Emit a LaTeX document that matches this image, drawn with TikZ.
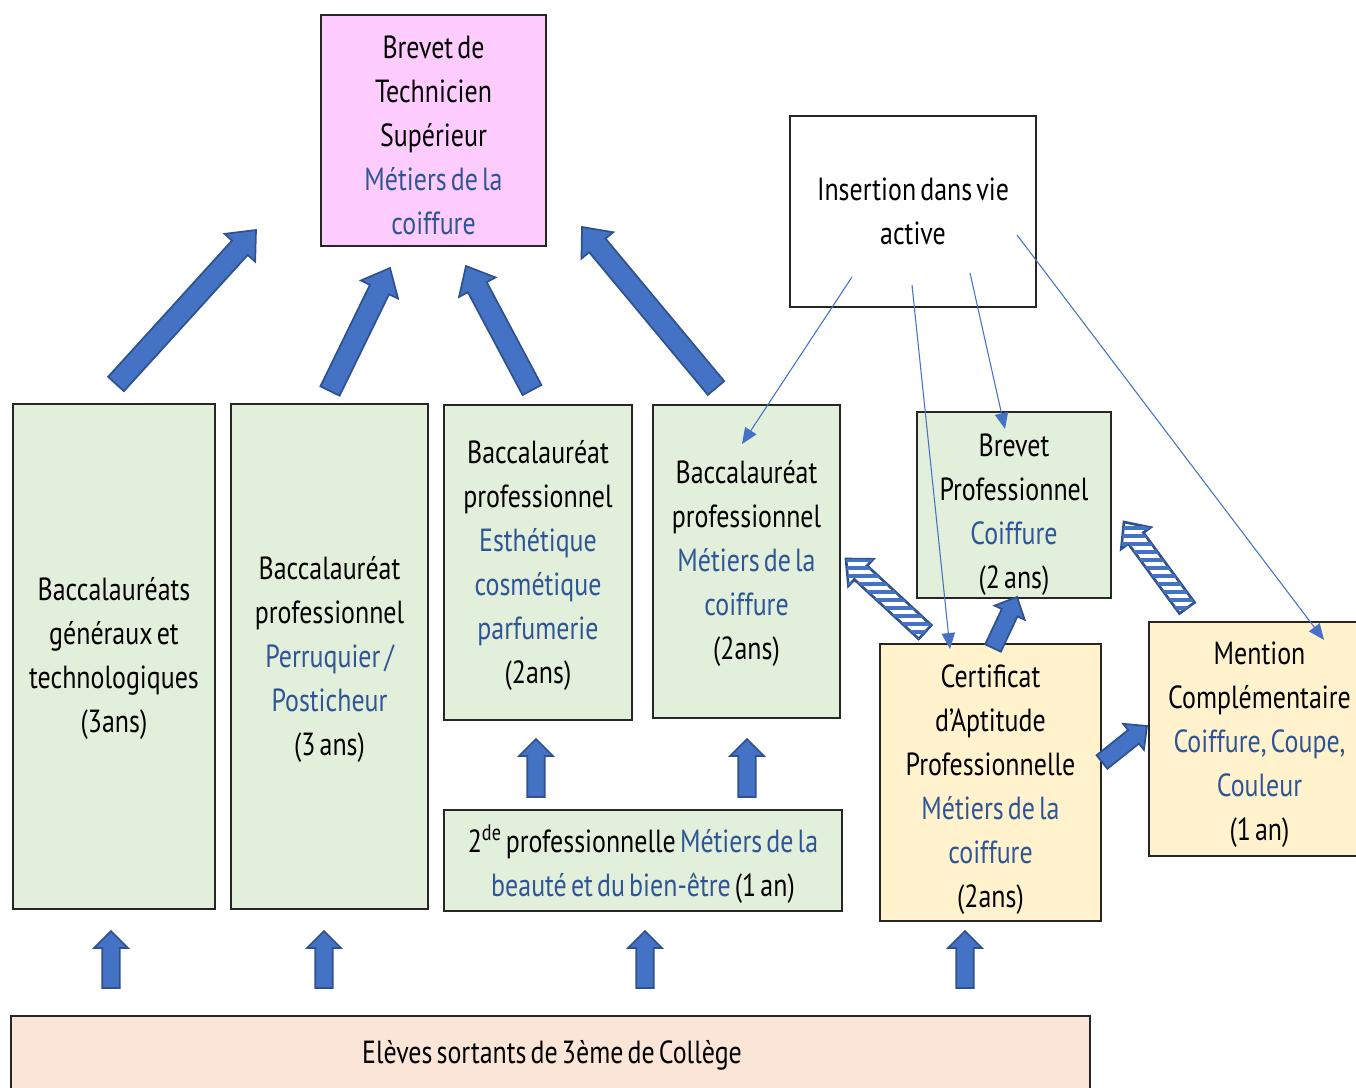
\documentclass[tikz,border=0pt]{standalone}
\usepackage{fontspec}
\setmainfont{PT Sans}[FakeStretch=0.81, WordSpace=0.6]
\usetikzlibrary{calc,fit,arrows.meta,patterns.meta}
\definecolor{grn}{HTML}{E2EFDA}
\definecolor{pnk}{HTML}{FFCCFF}
\definecolor{ylw}{HTML}{FFF2CC}
\definecolor{pch}{HTML}{FBE5D6}
\definecolor{blu}{HTML}{2F5597}
\definecolor{afill}{HTML}{4472C4}
\definecolor{aedge}{HTML}{2F528F}
\definecolor{boxc}{HTML}{262626}
\newcommand{\bl}[1]{\textcolor{blu}{#1}}
\newcommand{\blkarrow}[6]{%
  \coordinate (bkH) at ($(#3)!#6!(#2)$);
  \draw[#1] ($(#2)!#4!90:(#3)$) -- ($(bkH)!#4!90:(#3)$) -- ($(bkH)!#5!90:(#3)$) -- (#3)
    -- ($(bkH)!#5!-90:(#3)$) -- ($(bkH)!#4!-90:(#3)$) -- ($(#2)!#4!-90:(#3)$) -- cycle;}
\tikzset{
  box/.style={draw=boxc, line width=1.1pt, inner sep=0pt},
  txt/.style={align=center, inner sep=0pt, font=\fontsize{24}{33}\selectfont},
  solidarrow/.style={fill=afill, draw=aedge, line width=1.3pt, line join=miter},
  stripearrow/.style={draw=aedge, line width=2pt, line join=miter, fill=white,
    postaction={pattern={Lines[angle=0,distance=6pt,line width=3pt]}, pattern color=afill}},
  thin/.style={draw=afill, line width=0.8pt, -{Triangle[length=12pt,width=10pt]}},
}
\begin{document}
\begin{tikzpicture}[x=0.75pt,y=-0.75pt]
\useasboundingbox (0,0) rectangle (1356,1088);
% boxes
\node[box, fill=pnk, fit={(321,15)(546,246)}] (bts) {};
\node[box, fill=white, fit={(790,116)(1036,307)}] (ins) {};
\node[box, fill=grn, fit={(13,404)(215,909)}] (bacg) {};
\node[box, fill=grn, fit={(231,404)(428,909)}] (bacp) {};
\node[box, fill=grn, fit={(444,405)(632,720)}] (bace) {};
\node[box, fill=grn, fit={(653,405)(840,718)}] (bacc) {};
\node[box, fill=grn, fit={(444,810)(842,911)}] (sec) {};
\node[box, fill=grn, fit={(917,412)(1111,598)}] (bp) {};
\node[box, fill=ylw, fit={(880,644)(1101,921)}] (cap) {};
\node[box, fill=ylw, fit={(1149,622)(1364,856)}] (mc) {};
\node[box, fill=pch, fit={(11,1016)(1090,1094)}] (col) {};
% texts
\node[txt] (btsT) at ($(bts.center)+(0,5)$) {Brevet de\\Technicien\\Supérieur\\\bl{Métiers de la}\\\bl{coiffure}};
\node[txt] (insT) at ($(ins.center)+(0,0)$) {Insertion dans vie\\active};
\node[txt] (bacgT) at ($(bacg.center)+(0,2)$) {Baccalauréats\\généraux et\\technologiques\\(3ans)};
\node[txt] (bacpT) at ($(bacp.center)+(0,3)$) {Baccalauréat\\professionnel\\\bl{Perruquier /}\\\bl{Posticheur}\\(3 ans)};
\node[txt] (baceT) at ($(bace.center)+(0,3)$) {Baccalauréat\\professionnel\\\bl{Esthétique}\\\bl{cosmétique}\\\bl{parfumerie}\\(2ans)};
\node[txt] (baccT) at ($(bacc.center)+(0,2)$) {Baccalauréat\\professionnel\\\bl{Métiers de la}\\\bl{coiffure}\\(2ans)};
\node[txt] (secT) at ($(sec.center)+(0,4)$) {2\textsuperscript{de} professionnelle \bl{Métiers de la}\\\bl{beauté et du bien-être} (1 an)};
\node[txt] (bpT) at ($(bp.center)+(0,10)$) {Brevet\\Professionnel\\\bl{Coiffure}\\(2 ans)};
\node[txt] (capT) at ($(cap.center)+(0,7)$) {Certificat\\d'Aptitude\\Professionnelle\\\bl{Métiers de la}\\\bl{coiffure}\\(2ans)};
\node[txt] (mcT) at ($(mc.center)+(3,6)$) {Mention\\Complémentaire\\\bl{Coiffure, Coupe,}\\\bl{Couleur}\\(1 an)};
\node[txt] (colT) at (552,1055) {Elèves sortants de 3ème de Collège};
% block arrows from college
\foreach \xx/\nm in {111/a,324/b,645/c,965/d}{
  \coordinate (t\nm) at (\xx,988);
  \coordinate (h\nm) at (\xx,931);
  \blkarrow{solidarrow}{t\nm}{h\nm}{6.5pt}{12.75pt}{12.75pt}
}
\foreach \xx/\nm in {536/e,747/f}{
  \coordinate (t\nm) at (\xx,797);
  \coordinate (h\nm) at (\xx,739);
  \blkarrow{solidarrow}{t\nm}{h\nm}{6.5pt}{12.75pt}{12.75pt}
}
% big diagonal arrows to BTS
\coordinate (g1t) at (116,384); \coordinate (g1h) at (256,230);
\coordinate (g2t) at (330,391); \coordinate (g2h) at (390,268);
\coordinate (g3t) at (532,390); \coordinate (g3h) at (466,266);
\coordinate (g4t) at (716,388); \coordinate (g4h) at (582,227);
\blkarrow{solidarrow}{g1t}{g1h}{8pt}{15.5pt}{18pt}
\blkarrow{solidarrow}{g2t}{g2h}{8pt}{15.5pt}{18pt}
\blkarrow{solidarrow}{g3t}{g3h}{8pt}{15.5pt}{18pt}
\blkarrow{solidarrow}{g4t}{g4h}{8pt}{15.5pt}{18pt}
% CAP arrows
\coordinate (c1t) at (993,648); \coordinate (c1h) at (1017,597);
\coordinate (c2t) at (1102,762); \coordinate (c2h) at (1147,726);
\blkarrow{solidarrow}{c1t}{c1h}{6.5pt}{12.5pt}{13pt}
\blkarrow{solidarrow}{c2t}{c2h}{6.5pt}{12.5pt}{13pt}
% striped arrows
\coordinate (s1t) at (925,632); \coordinate (s1h) at (846,559);
\coordinate (s2t) at (1187,608); \coordinate (s2h) at (1124,522);
\blkarrow{stripearrow}{s1t}{s1h}{7pt}{13.5pt}{15pt}
\blkarrow{stripearrow}{s2t}{s2h}{7pt}{13.5pt}{15pt}
% thin arrows from insertion
\coordinate (i1) at (852,277); \coordinate (e1) at (742,444);
\coordinate (i2) at (912,285); \coordinate (e2) at (950,649);
\coordinate (i3) at (970,273); \coordinate (e3) at (1005,429);
\coordinate (i4) at (1017,235); \coordinate (e4) at (1324,640);
\draw[thin] (i1) -- (e1);
\draw[thin] (i2) -- (e2);
\draw[thin] (i3) -- (e3);
\draw[thin] (i4) -- (e4);
\end{tikzpicture}
\end{document}
